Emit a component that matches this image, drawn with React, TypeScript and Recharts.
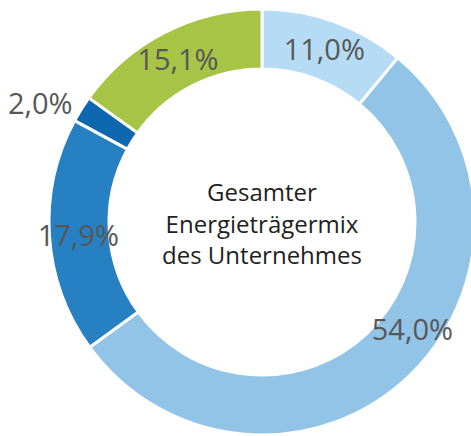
import { PieChart, Pie, Cell } from 'recharts';

const categories = ['Segment A', 'Segment B', 'Segment C', 'Segment D', 'Segment E'];
const shares = [11.0, 54.0, 17.9, 2.0, 15.1];
const colors = ['#B5DCF4', '#92C4E8', '#2680C2', '#0F67B0', '#A8C446'];
const centerLines = ['Gesamter', 'Energieträgermix', 'des Unternehmes'];

// label placement tweaks (radius / angle shift in degrees) per slice index
const labelRadius: Record<number, number> = { 3: 252 };
const labelAngleShift: Record<number, number> = { 1: 11.6, 3: 3.7 };

const RAD = Math.PI / 180;
const FONT = '"Open Sans", "DejaVu Sans", sans-serif';
const CX = 262;
const CY = 222;

const data = categories.map((name, i) => ({ name, value: shares[i] }));

function renderLabel(props: any) {
  const { cx, cy, midAngle, index, value } = props;
  const r = labelRadius[index] ?? 184;
  const a = midAngle + (labelAngleShift[index] ?? 0);
  const x = cx + r * Math.cos(-a * RAD);
  const y = cy + r * Math.sin(-a * RAD);
  return (
    <text
      x={x}
      y={y}
      fill="#575757"
      fontSize={29}
      fontFamily={FONT}
      textAnchor="middle"
      dominantBaseline="central"
    >
      {value.toFixed(1).replace('.', ',')}%
    </text>
  );
}

export default function App() {
  return (
    <div style={{ position: 'fixed', left: 0, top: 0, width: 471, height: 436, background: '#fff' }}>
      <PieChart width={471} height={436} margin={{ top: 0, right: 0, bottom: 0, left: 0 }}>
        <Pie
          data={data}
          dataKey="value"
          nameKey="name"
          cx={CX}
          cy={CY}
          innerRadius={153}
          outerRadius={213}
          startAngle={90}
          endAngle={-270}
          stroke="#fff"
          strokeWidth={3}
          label={renderLabel}
          labelLine={false}
          isAnimationActive={false}
        >
          {data.map((d, i) => (
            <Cell key={d.name} fill={colors[i]} />
          ))}
        </Pie>
      </PieChart>
      <div
        style={{
          position: 'absolute',
          left: CX - 120,
          top: CY - 46,
          width: 240,
          textAlign: 'center',
          fontFamily: FONT,
          fontSize: 24,
          lineHeight: '31.5px',
          color: '#231F20',
        }}
      >
        {centerLines.map((line) => (
          <div key={line}>{line}</div>
        ))}
      </div>
    </div>
  );
}
